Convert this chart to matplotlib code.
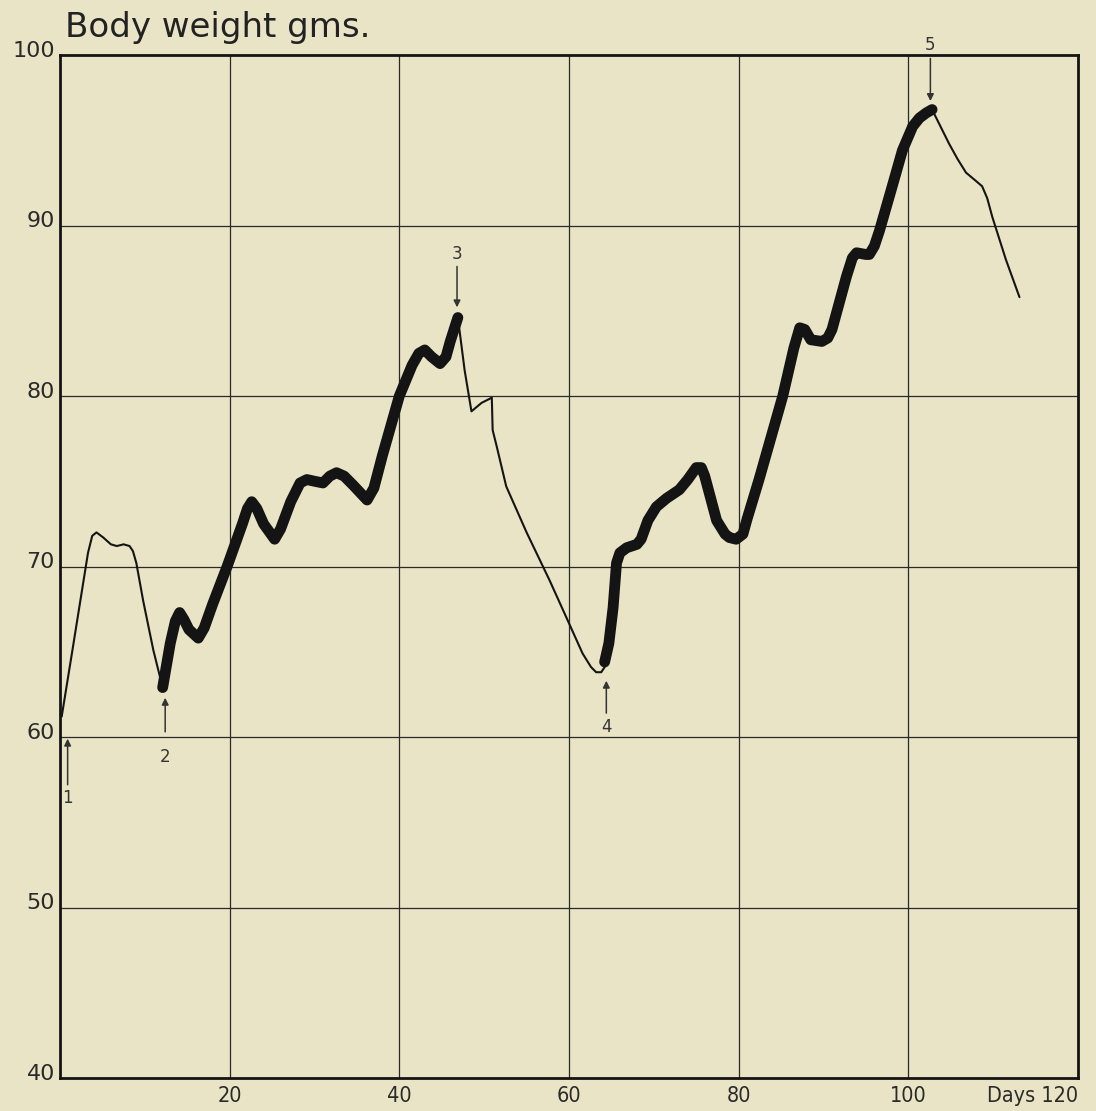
import matplotlib
matplotlib.use("Agg")
import matplotlib.pyplot as plt

# ---- data ----
thin1_days = [0.2, 1.5, 3.3, 3.8, 4.3, 5.1, 6.0, 6.7, 7.5, 8.2, 8.6, 9.0, 9.8, 11.0, 12.1]
thin1_wt   = [61.2, 65.2, 70.8, 71.8, 72.0, 71.7, 71.3, 71.2, 71.3, 71.2, 70.9, 70.2, 68.0, 65.1, 62.9]

thick1_days = [12.1, 13.0, 13.6, 14.1, 14.6, 15.2, 16.3, 17.0, 18.0, 19.7, 21.5, 22.1,
               22.6, 23.2, 24.0, 25.3, 26.0, 27.2, 28.3, 29.1, 30.0, 31.0, 31.8, 32.6,
               33.5, 34.5, 36.2, 37.0, 38.0, 40.0, 41.5, 42.3, 43.0, 43.8, 44.8, 45.5,
               46.0, 46.9]
thick1_wt   = [62.9, 65.5, 66.8, 67.3, 66.9, 66.3, 65.8, 66.4, 67.8, 70.0, 72.5, 73.4,
               73.8, 73.4, 72.5, 71.6, 72.2, 73.8, 74.9, 75.1, 75.0, 74.9, 75.3, 75.5,
               75.3, 74.8, 73.9, 74.6, 76.5, 80.0, 81.8, 82.5, 82.7, 82.3, 81.9, 82.3,
               83.2, 84.6]

thin2_days = [46.9, 47.7, 48.5, 49.7, 50.9, 51.0, 51.5, 52.6, 55.0, 57.7, 59.7,
              61.6, 62.6, 63.2, 63.8, 64.2]
thin2_wt   = [84.6, 81.5, 79.1, 79.6, 79.9, 78.0, 77.0, 74.7, 72.0, 69.2, 67.0,
              64.9, 64.1, 63.8, 63.8, 64.1]

thick2_days = [64.2, 64.7, 65.2, 65.6, 66.0, 66.8, 68.0, 68.5, 69.3, 70.3, 71.5, 73.0,
               74.0, 75.0, 75.6, 76.0, 77.4, 78.4, 78.9, 79.7, 80.5, 81.0, 82.4, 85.2,
               86.5, 87.2, 87.8, 88.5, 89.8, 90.5, 91.0, 92.7, 93.4, 93.9, 95.0, 95.4,
               96.0, 96.6, 98.1, 99.3, 100.5, 101.3, 102.1, 102.8]
thick2_wt   = [64.4, 65.5, 67.6, 70.2, 70.8, 71.1, 71.3, 71.6, 72.7, 73.5, 74.0, 74.5,
               75.1, 75.8, 75.8, 75.3, 72.7, 71.9, 71.7, 71.6, 71.9, 72.8, 75.1, 80.0,
               82.8, 84.0, 83.9, 83.3, 83.2, 83.4, 83.9, 87.0, 88.1, 88.4, 88.3, 88.3,
               88.8, 89.7, 92.3, 94.4, 95.8, 96.3, 96.6, 96.8]

thin3_days = [102.8, 103.8, 104.8, 105.8, 106.8, 108.0, 108.7, 109.3, 109.9, 111.5, 113.1]
thin3_wt   = [96.8, 95.8, 94.8, 93.9, 93.1, 92.6, 92.3, 91.6, 90.5, 88.0, 85.8]

x_ticks = [20, 40, 60, 80, 100]
y_ticks = [40, 50, 60, 70, 80, 90, 100]

# markers: label, day, label weight, arrow tail weight, arrow head weight
marker_labels = ["1", "2", "3", "4", "5"]
marker_days   = [0.9, 12.4, 46.8, 64.4, 102.6]
marker_text_w = [56.4, 58.8, 88.3, 60.6, 100.6]
marker_tail_w = [57.2, 60.3, 87.6, 61.4, 99.8]
marker_head_w = [59.9, 62.3, 85.2, 63.3, 97.3]

bg = "#E9E4C5"
ink = "#141414"

fig = plt.figure(figsize=(10.96, 11.11), dpi=100, facecolor=bg)
ax = fig.add_axes([60/1096, 1 - 1078/1111, 1018/1096, 1023/1111])
ax.set_facecolor(bg)
ax.set_xlim(0, 120)
ax.set_ylim(40, 100)

for x in x_ticks:
    ax.axvline(x, color="#2a2a2a", lw=0.9, zorder=1)
for y in y_ticks[1:-1]:
    ax.axhline(y, color="#2a2a2a", lw=0.9, zorder=1)

for s in ax.spines.values():
    s.set_color(ink)
    s.set_linewidth(2.0)

kw_thin = dict(color=ink, lw=1.5, solid_joinstyle="round", solid_capstyle="round", zorder=3)
kw_thick = dict(color=ink, lw=7.8, solid_joinstyle="round", solid_capstyle="round", zorder=4)
ax.plot(thin1_days, thin1_wt, **kw_thin)
ax.plot(thick1_days, thick1_wt, **kw_thick)
ax.plot(thin2_days, thin2_wt, **kw_thin)
ax.plot(thick2_days, thick2_wt, **kw_thick)
ax.plot(thin3_days, thin3_wt, **kw_thin)

for lab, d, tw, t0, t1 in zip(marker_labels, marker_days, marker_text_w,
                              marker_tail_w, marker_head_w):
    ax.annotate("", xy=(d, t1), xytext=(d, t0),
                arrowprops=dict(arrowstyle="-|>", color="#333333", lw=1.1,
                                mutation_scale=10, shrinkA=0, shrinkB=0), zorder=5)
    ax.text(d, tw, lab, ha="center", va="center", fontsize=12, color="#333333")

ax.set_xticks([])
ax.set_yticks([])

for x in x_ticks:
    ax.text(x, 39.55, str(x), ha="center", va="top", fontsize=15.5,
            fontstretch="condensed", color="#2a2a2a")
ax.text(120, 39.55, "Days 120", ha="right", va="top", fontsize=15.5,
        fontstretch="condensed", color="#2a2a2a")
for y in y_ticks:
    ax.text(-0.6, y + 0.25, str(y), ha="right", va="center", fontsize=16,
            color="#2a2a2a")

fig.text(65/1096, 1 - 28/1111, "Body weight gms.", ha="left", va="center",
         fontsize=24.5, color="#222222")

fig.savefig("out.png", dpi=100, facecolor=bg)
